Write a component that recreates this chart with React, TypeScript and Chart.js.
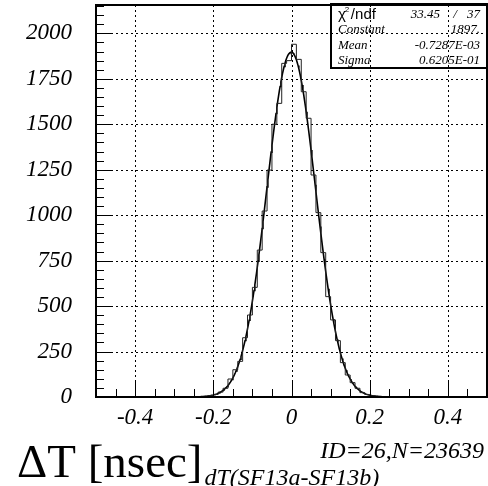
import React, { useEffect, useRef } from 'react';
import { Chart, registerables } from 'chart.js';

Chart.register(...registerables);

// ---- data ----
const X_MIN = -0.5;
const X_MAX = 0.5;
const Y_MAX = 2156;
const BIN_WIDTH = 0.0125;
const FIRST_BIN_LOW = -0.25;
const COUNTS = [
  1, 2, 4, 8, 14, 27, 48, 99, 150, 196, 326, 451, 603, 808, 1023, 1248, 1500, 1615, 1835, 1850,
  1940, 1857, 1679, 1533, 1221, 1014, 794, 552, 424, 310, 189, 121, 79, 48, 24, 14, 7, 4, 2, 1,
];
const X_TICKS = [-0.4, -0.2, 0, 0.2, 0.4];
const X_TICK_LABELS = ['-0.4', '-0.2', '0', '0.2', '0.4'];
const Y_TICKS = [0, 250, 500, 750, 1000, 1250, 1500, 1750, 2000];
const Y_TICK_LABELS = ['0', '250', '500', '750', '1000', '1250', '1500', '1750', '2000'];
const X_MINOR_STEP = 0.05;
const Y_MINOR_STEP = 50;

// fit parameters shown in the stats box
const FIT_CONSTANT = 1897;
const FIT_MEAN = -0.7287e-3;
const FIT_SIGMA = 0.6205e-1;
const FIT_RANGE = [-0.25, 0.25];
const STATS_ROWS = [
  ['Constant', '1897.'],
  ['Mean', '-0.7287E-03'],
  ['Sigma', '0.6205E-01'],
];
const CHI2 = '33.45';
const NDF = '37';
const TITLE_MAIN = 'ΔT [nsec]';
const TITLE_SUB = 'dT(SF13a-SF13b)';
const INFO_TEXT = 'ID=26,N=23639';

const SERIF = '"Liberation Serif", "DejaVu Serif", serif';
const SANS = '"Liberation Sans", "DejaVu Sans", sans-serif';

function histPoints() {
  const pts: { x: number; y: number }[] = [{ x: X_MIN, y: 0 }, { x: FIRST_BIN_LOW, y: 0 }];
  COUNTS.forEach((c, i) => pts.push({ x: FIRST_BIN_LOW + i * BIN_WIDTH, y: c }));
  pts.push({ x: FIRST_BIN_LOW + COUNTS.length * BIN_WIDTH, y: 0 });
  pts.push({ x: X_MAX, y: 0 });
  return pts;
}

function fitPoints() {
  const pts: { x: number; y: number }[] = [];
  const n = 240;
  for (let i = 0; i <= n; i++) {
    const x = FIT_RANGE[0] + ((FIT_RANGE[1] - FIT_RANGE[0]) * i) / n;
    const z = (x - FIT_MEAN) / FIT_SIGMA;
    pts.push({ x, y: FIT_CONSTANT * Math.exp(-0.5 * z * z) });
  }
  return pts;
}

const decorPlugin = {
  id: 'rootDecor',
  beforeDatasetsDraw(chart: any) {
    const { ctx, chartArea: a, scales } = chart;
    const xs = scales.x;
    const ys = scales.y;
    ctx.save();
    ctx.strokeStyle = '#000';
    ctx.lineWidth = 1;
    ctx.setLineDash([2, 3]);
    X_TICKS.forEach((v) => {
      const px = Math.round(xs.getPixelForValue(v)) + 0.5;
      ctx.beginPath();
      ctx.moveTo(px, a.bottom);
      ctx.lineTo(px, a.top);
      ctx.stroke();
    });
    Y_TICKS.forEach((v) => {
      if (v === 0) return;
      const py = Math.round(ys.getPixelForValue(v)) + 0.5;
      ctx.beginPath();
      ctx.moveTo(a.left, py);
      ctx.lineTo(a.right, py);
      ctx.stroke();
    });
    ctx.restore();
  },
  afterDatasetsDraw(chart: any) {
    const { ctx, chartArea: a, scales } = chart;
    const xs = scales.x;
    const ys = scales.y;
    ctx.save();
    ctx.strokeStyle = '#000';
    ctx.lineWidth = 1;
    ctx.setLineDash([]);
    for (let v = X_MIN; v <= X_MAX + 1e-9; v += X_MINOR_STEP) {
      const isMajor = X_TICKS.some((t) => Math.abs(t - v) < 1e-6);
      const px = Math.round(xs.getPixelForValue(v)) + 0.5;
      ctx.beginPath();
      ctx.moveTo(px, a.bottom);
      ctx.lineTo(px, a.bottom - (isMajor ? 16 : 8));
      ctx.stroke();
    }
    for (let v = 0; v <= Y_MAX; v += Y_MINOR_STEP) {
      const isMajor = v % 250 === 0;
      const py = Math.round(ys.getPixelForValue(v)) + 0.5;
      ctx.beginPath();
      ctx.moveTo(a.left, py);
      ctx.lineTo(a.left + (isMajor ? 16 : 8), py);
      ctx.stroke();
    }
    ctx.lineWidth = 2;
    ctx.strokeRect(a.left, a.top, a.right - a.left, a.bottom - a.top);
    ctx.restore();
  },
  afterDraw(chart: any) {
    const { ctx } = chart;
    ctx.save();
    ctx.fillStyle = '#000';
    ctx.strokeStyle = '#000';
    const bx = 331, by = 4, bw = 156, bh = 64;
    ctx.lineWidth = 2;
    ctx.strokeRect(bx, by, bw, bh);
    const left = 338;
    const right = 480;
    ctx.textBaseline = 'alphabetic';
    ctx.font = `15px ${SANS}`;
    ctx.textAlign = 'left';
    ctx.fillText('χ', left, 19);
    const cw = ctx.measureText('χ').width;
    ctx.font = `8px ${SANS}`;
    ctx.fillText('2', left + cw - 1, 12);
    ctx.font = `15px ${SANS}`;
    ctx.fillText('/ndf', left + cw + 5, 19);
    ctx.font = `italic 13px ${SERIF}`;
    ctx.textAlign = 'right';
    ctx.fillText(CHI2, 440, 18);
    ctx.textAlign = 'center';
    ctx.fillText('/', 455, 18);
    ctx.textAlign = 'right';
    ctx.fillText(NDF, right, 18);
    STATS_ROWS.forEach(([k, v], i) => {
      const yb = 33 + i * 15.7;
      ctx.textAlign = 'left';
      ctx.fillText(k, left, yb);
      ctx.textAlign = 'right';
      ctx.fillText(v, right, yb);
    });
    ctx.textAlign = 'left';
    ctx.font = `47px ${SERIF}`;
    ctx.fillText(TITLE_MAIN, 17, 477);
    const tw = ctx.measureText(TITLE_MAIN).width;
    ctx.font = `italic 24px ${SERIF}`;
    ctx.fillText(TITLE_SUB, 17 + tw + 2, 485);
    ctx.textAlign = 'right';
    ctx.fillText(INFO_TEXT, 484, 458);
    ctx.restore();
  },
};

export default function App() {
  const ref = useRef<HTMLCanvasElement | null>(null);
  useEffect(() => {
    if (!ref.current) return;
    const chart = new Chart(ref.current, {
      type: 'line',
      data: {
        datasets: [
          {
            label: 'hist',
            data: histPoints(),
            stepped: 'before',
            borderColor: '#222',
            borderWidth: 1,
            pointRadius: 0,
            fill: false,
          },
          {
            label: 'fit',
            data: fitPoints(),
            borderColor: '#000',
            borderWidth: 1.6,
            pointRadius: 0,
            tension: 0,
            fill: false,
          },
        ],
      },
      options: {
        responsive: false,
        animation: false,
        devicePixelRatio: 1,
        layout: { padding: { left: 0, top: 5, right: 1, bottom: 0 } },
        plugins: { legend: { display: false }, tooltip: { enabled: false }, title: { display: false } },
        scales: {
          x: {
            type: 'linear',
            min: X_MIN,
            max: X_MAX,
            afterBuildTicks: (s: any) => {
              s.ticks = X_TICKS.map((v) => ({ value: v }));
            },
            afterFit: (s: any) => {
              s.height = 89;
              s.paddingLeft = 0;
              s.paddingRight = 0;
            },
            ticks: {
              callback: (_v: any, i: number) => X_TICK_LABELS[i],
              font: { family: SERIF, style: 'italic', size: 23 },
              color: '#000',
              padding: 7,
              maxRotation: 0,
              autoSkip: false,
            },
            grid: { display: false, drawTicks: false },
            border: { display: false },
          },
          y: {
            type: 'linear',
            min: 0,
            max: Y_MAX,
            afterBuildTicks: (s: any) => {
              s.ticks = Y_TICKS.map((v) => ({ value: v }));
            },
            afterFit: (s: any) => {
              s.width = 96;
              s.paddingTop = 0;
              s.paddingBottom = 0;
            },
            ticks: {
              callback: (_v: any, i: number) => Y_TICK_LABELS[i],
              font: { family: SERIF, style: 'italic', size: 23 },
              color: '#000',
              padding: 24,
              autoSkip: false,
            },
            grid: { display: false, drawTicks: false },
            border: { display: false },
          },
        },
      },
      plugins: [decorPlugin],
    } as any);
    return () => chart.destroy();
  }, []);
  return (
    <div style={{ position: 'absolute', left: 0, top: 0, width: 488, height: 486, background: '#fff' }}>
      <canvas ref={ref} width={488} height={486} style={{ display: 'block' }} />
    </div>
  );
}
